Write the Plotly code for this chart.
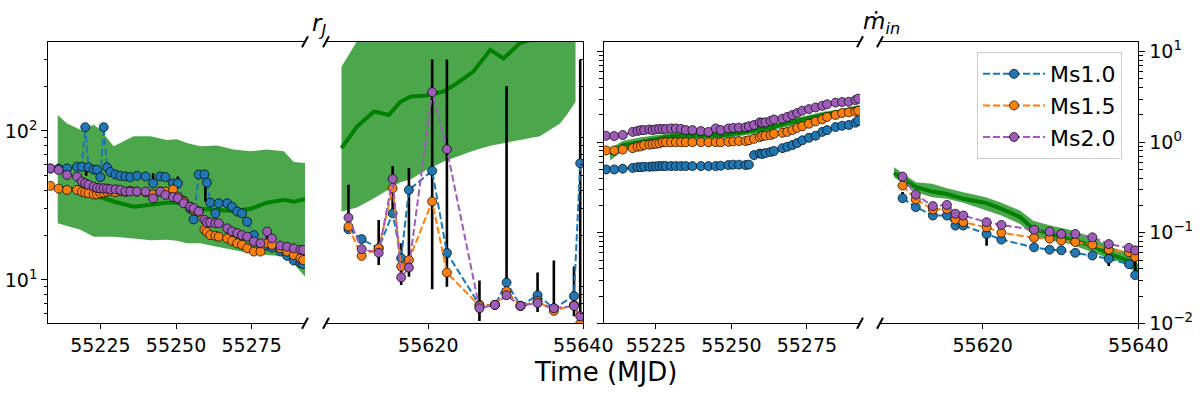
"""Broken-axis light curves: r_J and mdot_in for three Ms models"""
import plotly.graph_objects as go

# ------------------------------------------------------------
# data
# ------------------------------------------------------------
SERIES = ["Ms1.0", "Ms1.5", "Ms2.0"]
COLORS = {"Ms1.0": "#1f77b4", "Ms1.5": "#ff7f0e", "Ms2.0": "#9d5cb8"}

# early epoch (MJD 55208 - 55292)
t_early = [55208.5, 55211.2, 55214.0, 55217.3, 55218.9, 55220.0, 55221.1, 55222.8, 55223.9, 55225.0,
           55226.1, 55227.2, 55228.3, 55230.0, 55231.6, 55233.3, 55234.9, 55237.1, 55239.9, 55242.4,
           55244.8, 55246.5, 55249.0, 55250.6, 55252.5, 55254.7, 55255.8, 55257.5, 55259.4, 55260.2,
           55261.3, 55263.0, 55264.1, 55266.9, 55268.5, 55270.2, 55271.8, 55273.5, 55275.7, 55277.9,
           55280.1, 55281.7, 55284.5, 55286.7, 55288.9, 55291.1, 55292.0]

rj_early_ms10 = [56, 56, 56, 57.5, 57.5, 106, 57, 55, 55, 49,
                 106, 57, 53, 51, 50, 49.5, 49, 50, 49.5, 44.5,
                 49.5, 49, 44.5, 44.5, 34, 30, 25.5, 51, 51, 45,
                 33, 28, 32.7, 32.7, 31, 28.8, 28, 24.6, 20, 17.5,
                 17, 16.5, 15.5, 14.5, 13.5, 13, 12.8]
rj_early_ms15 = [42.8, 41, 40.2, 40.2, 39, 38.5, 38.2, 37.5, 37.5, 38.2,
                 38.5, 39, 39.5, 38.8, 39.4, 39, 39.6, 39.2, 38.8, 37.5,
                 39.2, 39.2, 40.5, 36.2, 33.6, 31, 29.5, 28.8, 21.7, 21,
                 20, 19.8, 19.5, 19, 18.3, 17.6, 17.2, 16.3, 15.5, 15.5,
                 17.6, 17.2, 16.3, 15.5, 14.7, 14, 13.6]
rj_early_ms20 = [56, 54.7, 50.7, 49.4, 45.7, 44.5, 43.5, 42.3, 41.5, 41.2,
                 41.2, 41, 40.6, 40.6, 40.2, 39.2, 39.2, 39.2, 39.2, 35.3,
                 39.2, 37.2, 36, 35.3, 32.7, 31, 30.3, 28.8, 25.3, 24.3,
                 24.3, 24, 24, 22.2, 21.2, 20.6, 20, 19.5, 18.1, 17.6,
                 21.1, 19, 17, 16.7, 16.3, 15.9, 15.9]

md_early_ms10 = [0.50, 0.50, 0.51, 0.52, 0.53, 0.53, 0.535, 0.535, 0.54, 0.54,
                 0.545, 0.545, 0.545, 0.545, 0.545, 0.545, 0.545, 0.545, 0.545, 0.545,
                 0.545, 0.55, 0.56, 0.565, 0.565, 0.56, 0.565, 0.72, 0.75, 0.74,
                 0.76, 0.78, 0.80, 0.86, 0.89, 0.93, 0.98, 1.05, 1.12, 1.18,
                 1.3, 1.36, 1.47, 1.52, 1.55, 1.64, 1.73]
md_early_ms15 = [0.81, 0.81, 0.83, 0.86, 0.89, 0.9, 0.93, 0.94, 0.95, 0.96,
                 0.97, 1.0, 1.0, 1.0, 1.0, 1.0, 1.0, 1.0, 1.0, 1.0,
                 1.0, 1.0, 1.01, 1.02, 1.03, 1.03, 1.05, 1.09, 1.14, 1.17,
                 1.18, 1.2, 1.24, 1.27, 1.3, 1.36, 1.44, 1.5, 1.6, 1.7,
                 1.79, 1.9, 2.0, 2.1, 2.14, 2.17, 2.23]
md_early_ms20 = [1.18, 1.17, 1.2, 1.3, 1.33, 1.36, 1.36, 1.38, 1.36, 1.39,
                 1.4, 1.4, 1.4, 1.42, 1.42, 1.4, 1.36, 1.36, 1.33, 1.3,
                 1.42, 1.36, 1.42, 1.44, 1.45, 1.46, 1.5, 1.55, 1.66, 1.64,
                 1.66, 1.72, 1.78, 1.82, 1.9, 2.0, 2.1, 2.23, 2.32, 2.42,
                 2.52, 2.62, 2.74, 2.78, 2.8, 2.92, 3.03]

# late epoch (MJD 55607 - 55640)
t_late = [55609.7, 55611.4, 55613.6, 55615.4, 55616.5, 55617.5, 55620.5, 55622.4,
          55626.6, 55628.6, 55630.1, 55631.9, 55634.1, 55636.2, 55638.8, 55639.6]

rj_late_ms10 = [21.9, 18.8, 16.3, 28, 14, 40.2, 54, 15.2, 6.8, 6.8, 9.6, 6.7, 7.9, 6.46, 7.8, 60.7]
rj_late_ms15 = [22.8, 14.5, 16.3, 41.2, 12.3, 13.6, 33.6, 11.2, 6.7, 6.8, 8.4, 6.7, 7.2, 6.2, 6.8, 5.1]
rj_late_ms20 = [26.2, 16.1, 15.2, 47.6, 10.4, 12.1, 182, 75.3, 6.46, 6.8, 7.9, 6.7, 7.0, 6.46, 6.7, 5.7]

md_late_ms10 = [0.241, 0.192, 0.155, 0.155, 0.12, 0.12, 0.097, 0.084,
                0.069, 0.065, 0.064, 0.06, 0.056, 0.0515, 0.045, 0.034]
md_late_ms15 = [0.332, 0.233, 0.18, 0.183, 0.14, 0.131, 0.115, 0.1,
                0.088, 0.086, 0.082, 0.079, 0.074, 0.065, 0.061, 0.054]
md_late_ms20 = [0.417, 0.264, 0.197, 0.203, 0.162, 0.155, 0.131, 0.122,
                0.108, 0.103, 0.097, 0.097, 0.089, 0.075, 0.068, 0.064]

# error bars (lower / upper end)
err_rj_early_t = [55220.3, 55242.4, 55250.6, 55259.7, 55280.1]
err_rj_early_lo = [50, 44, 43.4, 33.6, 17.6]
err_rj_early_hi = [60, 52, 49.4, 43.4, 20.6]

err_rj_late_t = [55609.7, 55613.6, 55615.4, 55616.5, 55617.5, 55620.5, 55622.4,
                 55626.6, 55630.1, 55634.1, 55636.2, 55638.8, 55639.6]
err_rj_late_lo = [21.6, 12.6, 26.6, 9.25, 10.5, 8.65, 9.0, 5.3, 7.7, 6.1, 5.97, 5.7, 5.2]
err_rj_late_hi = [43.5, 25.3, 58.2, 17.6, 56.5, 302, 302, 9.9, 200, 11.2, 13.5, 12.3, 302]

err_md_late_t = [55609.7, 55620.5, 55636.2, 55639.6]
err_md_late_lo = [0.216, 0.072, 0.043, 0.032]
err_md_late_hi = [0.281, 0.142, 0.056, 0.061]

# observed (green) median and range
obs_rj_early_t = [55210.9, 55214.0, 55218.4, 55222.8, 55225.0, 55229.4, 55236.0, 55241.5, 55247.0, 55250.3,
                  55253.6, 55258.0, 55263.5, 55269.0, 55274.6, 55280.0, 55285.6, 55288.9, 55292.6]
obs_rj_early_mid = [42, 41, 40, 38, 36, 33.6, 31, 32, 33, 33, 32, 30, 29.5, 29, 30, 33, 34.5, 33.5, 35]
obs_rj_early_hi = [128, 112, 102, 110, 102, 79, 92, 92, 87, 88, 83, 79, 80, 75, 73, 75, 73, 62, 61]
obs_rj_early_lo = [24, 23, 21.7, 19.5, 19.5, 19.5, 19, 18.5, 18.6, 18.3,
                   17.6, 17.6, 16.7, 15.9, 15.1, 14.7, 14.4, 12.9, 10.5]

obs_rj_late_t = [55608.8, 55610.8, 55613.0, 55614.9, 55616.4, 55617.7, 55619.8, 55622.0, 55623.7,
                 55625.8, 55628.0, 55629.7, 55631.8, 55634.4, 55637.0, 55638.0, 55639.0]
obs_rj_late_mid = [76.6, 107, 135, 128, 157, 170, 173, 184, 209, 250, 350, 307, 387, 430, 500, 530, 560]
obs_rj_late_lo = [28.8, 30.6, 35.3, 40.6, 45.3, 47.2, 54.8, 62.3, 67.3, 73.7, 79.4, 83, 87, 92, 112, 131, 157]
obs_rj_late_hi = [270, 400, 550, 650, 750, 800, 900, 1000, 1100, 1200, 1300, 1400, 1500, 1700, 1900, 2000, 2100]

obs_md_early_t = [55209.8, 55214.2, 55219.7, 55225.2, 55230.7, 55236.3, 55241.8, 55247.3,
                  55252.8, 55258.3, 55263.8, 55269.4, 55274.9, 55280.4, 55285.9, 55292.3]
obs_md_early_mid = [0.74, 0.93, 1.0, 1.1, 1.18, 1.18, 1.2, 1.2, 1.27, 1.36, 1.47, 1.66, 1.82, 2.0, 2.17, 2.42]
obs_md_early_lo = [0.63, 0.81, 0.88, 0.97, 1.03, 1.05, 1.09, 1.1, 1.17, 1.24, 1.36, 1.51, 1.66, 1.84, 2.0, 2.23]
obs_md_early_hi = [0.86, 1.04, 1.13, 1.2, 1.27, 1.3, 1.33, 1.33, 1.38, 1.47, 1.6, 1.78, 1.97, 2.17, 2.3, 2.56]

obs_md_late_t = [55608.6, 55611.4, 55613.5, 55615.4, 55617.5, 55620.4, 55622.4, 55624.8,
                 55626.5, 55628.7, 55631.2, 55634.1, 55636.3, 55638.8, 55640.0]
obs_md_late_mid = [0.458, 0.32, 0.285, 0.268, 0.237, 0.214, 0.184, 0.149,
                   0.11, 0.097, 0.086, 0.072, 0.058, 0.049, 0.037]
obs_md_late_hi = [0.529, 0.362, 0.347, 0.31, 0.28, 0.247, 0.215, 0.176,
                  0.136, 0.12, 0.108, 0.089, 0.07, 0.06, 0.045]
obs_md_late_lo = [0.411, 0.281, 0.247, 0.237, 0.215, 0.176, 0.155, 0.125,
                  0.093, 0.082, 0.075, 0.061, 0.0515, 0.045, 0.032]

# axis ticks
x_ticks_early = [55225, 55250, 55275]
x_ticks_late = [55620, 55640]
rj_ticks = [10, 100]
rj_ticktext = ["10<sup>1</sup>", "10<sup>2</sup>"]
rj_minor = [6, 7, 8, 9, 20, 30, 40, 50, 60, 70, 80, 90, 200, 300]
md_ticks = [0.01, 0.1, 1, 10]
md_ticktext = ["10<sup>\u22122</sup>", "10<sup>\u22121</sup>", "10<sup>0</sup>", "10<sup>1</sup>"]
md_minor = [0.02, 0.03, 0.04, 0.05, 0.06, 0.07, 0.08, 0.09,
            0.2, 0.3, 0.4, 0.5, 0.6, 0.7, 0.8, 0.9,
            2, 3, 4, 5, 6, 7, 8, 9]

# ------------------------------------------------------------
# layout geometry (pixels of a 1200 x 393 canvas)
# ------------------------------------------------------------
W, H = 1200, 393
TOP, BOTTOM = 41.7, 323.3
PANELS_PX = [(48.3, 305), (326, 583.3), (604, 860), (880, 1138.3)]
FONT = "DejaVu Sans"


def px_x(x):
    return x / W


def px_y(y):
    return 1 - y / H


def add_band(fig, t, lo, hi, mid, xa, ya):
    fig.add_trace(go.Scatter(x=t, y=hi, mode="lines", line=dict(width=0, color="green"),
                             xaxis=xa, yaxis=ya, showlegend=False, hoverinfo="skip"))
    fig.add_trace(go.Scatter(x=t, y=lo, mode="lines", line=dict(width=0, color="green"),
                             fill="tonexty", fillcolor="rgba(0,128,0,0.7)",
                             xaxis=xa, yaxis=ya, showlegend=False, hoverinfo="skip"))
    fig.add_trace(go.Scatter(x=t, y=mid, mode="lines", line=dict(width=4, color="green"),
                             xaxis=xa, yaxis=ya, showlegend=False))


def add_errors(fig, t, lo, hi, xa, ya):
    xs, ys = [], []
    for ti, l, h in zip(t, lo, hi):
        xs += [ti, ti, None]
        ys += [l, h, None]
    fig.add_trace(go.Scatter(x=xs, y=ys, mode="lines", line=dict(width=2.6, color="black"),
                             xaxis=xa, yaxis=ya, showlegend=False, hoverinfo="skip"))


def add_series(fig, t, values, xa, ya, legend):
    for name, y in zip(SERIES, values):
        c = COLORS[name]
        fig.add_trace(go.Scatter(
            x=t, y=y, name=name, mode="lines+markers",
            line=dict(color=c, width=2, dash="7px,3px"),
            marker=dict(size=9, color=c, line=dict(color="rgba(0,0,0,0.7)", width=1)),
            xaxis=xa, yaxis=ya, showlegend=legend, legendgroup=name,
        ))


fig = go.Figure()

# panel 1: r_J early
add_band(fig, obs_rj_early_t, obs_rj_early_lo, obs_rj_early_hi, obs_rj_early_mid, "x", "y")
add_errors(fig, err_rj_early_t, err_rj_early_lo, err_rj_early_hi, "x", "y")
add_series(fig, t_early, [rj_early_ms10, rj_early_ms15, rj_early_ms20], "x", "y", True)

# panel 2: r_J late
add_band(fig, obs_rj_late_t, obs_rj_late_lo, obs_rj_late_hi, obs_rj_late_mid, "x2", "y2")
add_errors(fig, err_rj_late_t, err_rj_late_lo, err_rj_late_hi, "x2", "y2")
add_series(fig, t_late, [rj_late_ms10, rj_late_ms15, rj_late_ms20], "x2", "y2", False)

# panel 3: mdot early
add_band(fig, obs_md_early_t, obs_md_early_lo, obs_md_early_hi, obs_md_early_mid, "x3", "y3")
add_series(fig, t_early, [md_early_ms10, md_early_ms15, md_early_ms20], "x3", "y3", False)

# panel 4: mdot late
add_band(fig, obs_md_late_t, obs_md_late_lo, obs_md_late_hi, obs_md_late_mid, "x4", "y4")
add_errors(fig, err_md_late_t, err_md_late_lo, err_md_late_hi, "x4", "y4")
add_series(fig, t_late, [md_late_ms10, md_late_ms15, md_late_ms20], "x4", "y4", False)

# ------------------------------------------------------------
# axes
# ------------------------------------------------------------
y_dom = [px_y(BOTTOM), px_y(TOP)]
tick_font = dict(family=FONT, size=19, color="black")


def x_axis(i, rng, ticks, anchor):
    l, r = PANELS_PX[i]
    return dict(domain=[px_x(l), px_x(r)], range=rng, anchor=anchor,
                showline=True, mirror=True, linecolor="black", linewidth=1.3,
                ticks="outside", ticklen=5, tickwidth=1.3, tickcolor="black",
                tickvals=ticks, tickformat="d", tickfont=tick_font,
                showgrid=False, zeroline=False, automargin=False)


def y_axis(anchor, rng, side, labels, ticks, ticktext, minor, major_ticks, minor_dir):
    return dict(domain=y_dom, type="log", range=rng, anchor=anchor, side=side,
                showline=True, linecolor="black", linewidth=1.3,
                ticks=major_ticks, ticklen=6, tickwidth=1.3, tickcolor="black",
                tickvals=ticks, ticktext=ticktext, showticklabels=labels, tickfont=tick_font,
                minor=dict(tickmode="array", tickvals=minor, ticks=minor_dir,
                           ticklen=3.5, tickwidth=1, tickcolor="black"),
                showgrid=False, zeroline=False, automargin=False)


rj_range = [0.709, 2.599]
md_range = [-2.0, 1.11]

fig.update_layout(
    xaxis=x_axis(0, [55207.8, 55292.6], x_ticks_early, "y"),
    xaxis2=x_axis(1, [55606.8, 55640], x_ticks_late, "y2"),
    xaxis3=x_axis(2, [55207.8, 55292.6], x_ticks_early, "y3"),
    xaxis4=x_axis(3, [55606.8, 55640], x_ticks_late, "y4"),
    yaxis=y_axis("x", rj_range, "left", True, rj_ticks, rj_ticktext, rj_minor, "outside", "outside"),
    yaxis2=y_axis("x2", rj_range, "right", False, rj_ticks, rj_ticktext, rj_minor, "", "inside"),
    yaxis3=y_axis("x3", md_range, "left", False, md_ticks, md_ticktext, md_minor, "outside", "outside"),
    yaxis4=y_axis("x4", md_range, "right", True, md_ticks, md_ticktext, md_minor, "outside", "outside"),
)

# break marks at the cut edges
shapes = []
for x in (PANELS_PX[0][1], PANELS_PX[1][0], PANELS_PX[2][1], PANELS_PX[3][0]):
    for y in (TOP, BOTTOM):
        shapes.append(dict(type="line", xref="paper", yref="paper",
                           x0=px_x(x - 3), y0=px_y(y + 5.5), x1=px_x(x + 3), y1=px_y(y - 5.5),
                           line=dict(color="black", width=2)))

annotations = [
    dict(text="Time (MJD)", x=px_x(605), y=px_y(372), xref="paper", yref="paper",
         xanchor="center", yanchor="middle", showarrow=False,
         font=dict(family=FONT, size=26, color="black")),
    dict(text="<i>r</i><sub><i>J</i></sub>", x=px_x(319), y=px_y(42), xref="paper", yref="paper",
         xanchor="center", yanchor="bottom", showarrow=False,
         font=dict(family=FONT, size=23, color="black")),
    dict(text="<i>\u1e41</i><sub><i>in</i></sub>", x=px_x(881), y=px_y(40), xref="paper", yref="paper",
         xanchor="center", yanchor="bottom", showarrow=False,
         font=dict(family=FONT, size=23, color="black")),
]

fig.update_layout(
    width=W, height=H,
    margin=dict(l=0, r=0, t=0, b=0),
    paper_bgcolor="white", plot_bgcolor="white",
    font=dict(family=FONT, color="black"),
    shapes=shapes, annotations=annotations,
    legend=dict(x=px_x(977), y=px_y(52), xanchor="left", yanchor="top",
                bgcolor="rgba(255,255,255,0.85)", bordercolor="#cccccc", borderwidth=1,
                font=dict(family=FONT, size=22, color="black"), itemwidth=62,
                tracegroupgap=0),
)

# the page body has a default 8px margin; drop it so the canvas sits at (0, 0)
fig.write_html("out.html", config={"displayModeBar": False},
               post_script="document.body.style.margin='0';document.body.style.overflow='hidden';")
